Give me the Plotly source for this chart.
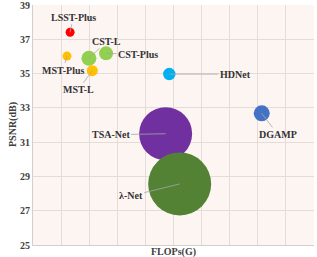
import plotly.graph_objects as go

names = ["LSST-Plus", "MST-Plus", "CST-L", "CST-Plus", "MST-L", "HDNet", "DGAMP", "TSA-Net", "λ-Net"]
flops = [1.32, 1.21, 1.99, 2.60, 2.11, 4.85, 8.14, 4.72, 5.22]
psnr = [37.41, 36.02, 35.89, 36.18, 35.17, 34.97, 32.68, 31.49, 28.56]
sizes = [9, 9, 15, 14, 11, 12.5, 16, 53, 63]
colors = ["#ff0000", "#ffc000", "#92d050", "#92d050", "#ffc000", "#00b0f0", "#4472c4", "#7030a0", "#548235"]
label_dx = [3, -4, 18, 32, -14, 66, 16, -55, -49]
label_dy = [-15, 14, -17, 1, 19, 0, 21, 1, 12]
y_ticks = [25, 27, 29, 31, 33, 35, 37, 39]

font_family = "Liberation Serif"

fig = go.Figure()
fig.add_trace(go.Scatter(
    x=flops, y=psnr, mode="markers",
    marker=dict(size=sizes, color=colors, opacity=1, line=dict(width=0)),
    hoverinfo="text", text=names, showlegend=False,
))

for n, x, y, dx, dy in zip(names, flops, psnr, label_dx, label_dy):
    fig.add_annotation(
        x=x, y=y, text="<b>%s</b>" % n, showarrow=True, arrowhead=0,
        ax=dx, ay=dy, arrowcolor="#a6a6a6", arrowwidth=0.8, standoff=0,
        font=dict(family=font_family, size=10, color="#333333"),
    )

fig.add_annotation(xref="paper", yref="paper", x=0.5, y=0, yshift=-7, showarrow=False,
                   text="<b>FLOPs(G)</b>", font=dict(family=font_family, size=10, color="#404040"),
                   yanchor="middle")
fig.add_annotation(xref="paper", yref="paper", x=0, y=0.5, xshift=-28, showarrow=False,
                   text="<b>PSNR(dB)</b>", textangle=-90,
                   font=dict(family=font_family, size=10, color="#404040"))

fig.update_layout(
    width=317, height=257,
    margin=dict(l=33, r=3, t=5, b=12, autoexpand=False),
    paper_bgcolor="#ffffff",
    plot_bgcolor="#fdf5f2",
    xaxis=dict(range=[0, 10], dtick=1, showticklabels=False, showgrid=True, automargin=False,
               gridcolor="#e4dcd9", gridwidth=1, zeroline=False,
               showline=True, linecolor="#d0d0d0", linewidth=1, ticks=""),
    yaxis=dict(range=[25, 39], tickvals=y_ticks, ticktext=["<b>%d</b>" % v for v in y_ticks],
               showgrid=True, gridcolor="#e4dcd9", gridwidth=1, zeroline=False, automargin=False,
               showline=True, linecolor="#d0d0d0", linewidth=1, ticks="",
               ticklabeloverflow="allow",
               tickfont=dict(family=font_family, size=10, color="#404040")),
)

fig.write_html("out.html", config={"displayModeBar": False},
               post_script="document.body.style.margin='0';document.body.style.padding='0';")
